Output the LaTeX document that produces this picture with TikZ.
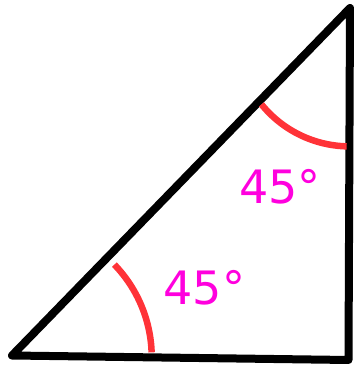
\documentclass[tikz,border=0pt]{standalone}
\usepackage{fontspec}
\setmainfont{DejaVu Sans}
\definecolor{arcred}{rgb}{1,.2,.22}
\definecolor{anglemag}{rgb}{1,0,.87}
\tikzset{
  % style for the sides of the triangle
  side/.style={line width=8pt,line join=round,line cap=round},
  % style for the angle marks
  angle arc/.style={color=arcred,line width=6.5pt},
  angle label/.style={color=anglemag,font=\fontsize{46}{46}\selectfont,inner sep=0pt},
}

\begin{document}
\begin{tikzpicture}[x=1pt,y=1pt]
\useasboundingbox (0,0) rectangle (354,365);

\coordinate (A) at (12,9.5);
\coordinate (B) at (348.5,5);
\coordinate (C) at (350,357);
% centres of the two angle marks
\coordinate (Ac) at (18.7,8);
\coordinate (Cc) at (349.6,332);

\draw[side] (A) -- (B) -- (C) -- cycle;

\draw[angle arc] ([shift={(2:133)}]Ac) arc (2:44:133);
\draw[angle arc] ([shift={(219:113.4)}]Cc) arc (219:268.5:113.4);

\node[angle label] (alpha1) at (204.5,77) {45°};
\node[angle label] (alpha2) at (280,178) {45°};

\end{tikzpicture}
\end{document}
